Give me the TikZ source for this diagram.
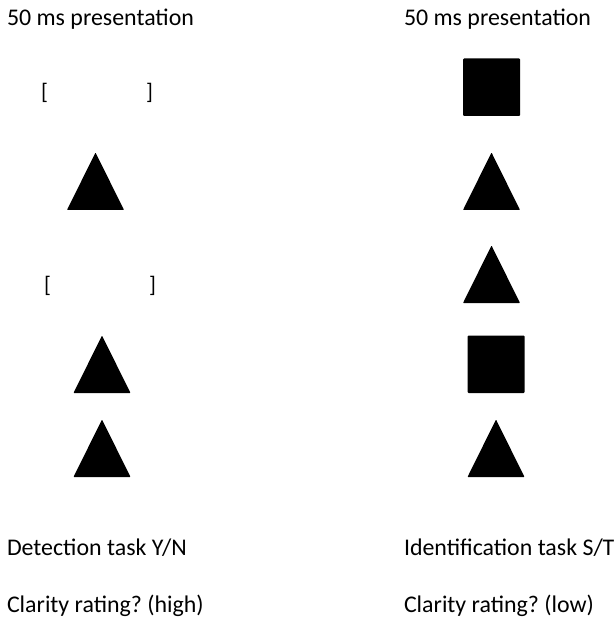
\documentclass[tikz,border=0pt]{standalone}
\usepackage{fontspec}
\setmainfont{Carlito}
\frenchspacing
\begin{document}
\begin{tikzpicture}[x=1pt,y=-1pt,
  lbl/.style={inner sep=0pt,outer sep=0pt,anchor=base west,font=\fontsize{23.9}{28}\selectfont},
  brk/.style={inner sep=0pt,outer sep=0pt,font=\fontsize{22.5}{26}\selectfont},
  tri/.pic={\fill[rounded corners=0.6pt] (-28.5,0) -- (0,-57.5) -- (28.5,0) -- cycle;},
  sq/.pic={\fill[rounded corners=1pt] (-28.5,0) rectangle (28.5,-57.5);}
]
\useasboundingbox (0,0) rectangle (615,617);
% headings
\node[lbl] (h1) at (7,26) {50 ms presentation};
\node[lbl] (h2) at (404,26) {50 ms presentation};
% left column
\node[brk,anchor=base west] (b1l) at (41,100) {[};
\node[brk,anchor=base east] (b1r) at (153,100) {]};
\pic at (95.5,210) {tri};
\node[brk,anchor=base west] (b2l) at (44,292) {[};
\node[brk,anchor=base east] (b2r) at (156,292) {]};
\pic at (102,393) {tri};
\pic at (102,477) {tri};
% right column
\pic at (491.5,116) {sq};
\pic at (491.5,210) {tri};
\pic at (491.5,303) {tri};
\pic at (496,393) {sq};
\pic at (496,477) {tri};
% bottom labels
\node[lbl] (d1) at (7,555) {Detection task Y/N};
\node[lbl] (d2) at (404,555) {Identification task S/T};
\node[lbl] (c1) at (7,612) {Clarity rating?\ (high)};
\node[lbl] (c2) at (404,612) {Clarity rating?\ (low)};
\end{tikzpicture}
\end{document}
